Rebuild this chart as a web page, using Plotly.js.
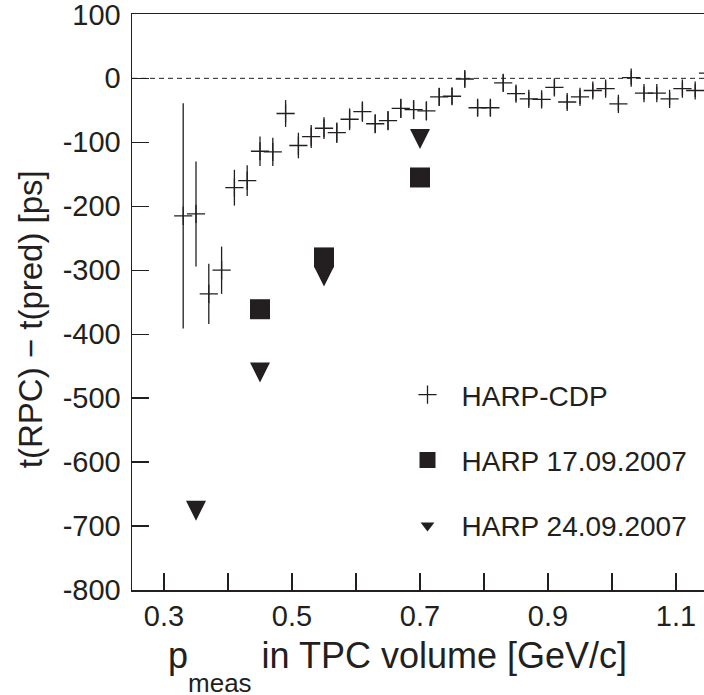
<!DOCTYPE html>
<html>
<head>
<meta charset="utf-8">
<script src="https://cdn.plot.ly/plotly-3.0.1.min.js"></script>
<style>
html, body { margin: 0; padding: 0; overflow: hidden; background: #fff; }
#chart { width: 712px; height: 695px; }
</style>
</head>
<body>
<div id="chart"></div>
<script>
// HARP-CDP: momentum bins, mean time difference, error
const cdpP = [0.33, 0.35, 0.37, 0.39, 0.41, 0.43, 0.45, 0.47, 0.49, 0.51, 0.53, 0.55, 0.57, 0.59, 0.61, 0.63, 0.65, 0.67, 0.69, 0.71, 0.73, 0.75, 0.77, 0.79, 0.81, 0.83, 0.85, 0.87, 0.89, 0.91, 0.93, 0.95, 0.97, 0.99, 1.01, 1.03, 1.05, 1.07, 1.09, 1.11, 1.13, 1.15];
const cdpDt = [-215, -212, -337, -300, -171, -160, -114, -115, -55, -105, -91, -78, -85, -64, -52, -71, -66, -47, -49, -51, -29, -28, -1, -46, -46, -7, -24, -32, -33, -14, -37, -29, -19, -16, -40, 1, -23, -23, -32, -16, -19, 8];
const cdpErr = [176, 82, 47, 37, 28, 24, 23, 22, 21, 20, 18, 17, 16, 17, 16, 15, 15, 15, 15, 15, 14, 13, 12, 13, 13, 13, 12, 11, 11, 12, 11, 11, 11, 11, 11, 11, 10, 10, 10, 11, 10, 10];

// HARP 17.09.2007
const h17P = [0.45, 0.55, 0.70];
const h17Dt = [-361, -280, -155];

// HARP 24.09.2007
const h24P = [0.35, 0.45, 0.55, 0.70];
const h24Dt = [-676, -460, -310, -95];

const xTickVals = [0.3, 0.4, 0.5, 0.6, 0.7, 0.8, 0.9, 1.0, 1.1];
const xTickText = ['0.3', '', '0.5', '', '0.7', '', '0.9', '', '1.1'];
const yTickVals = [-800, -700, -600, -500, -400, -300, -200, -100, 0, 100];
const yTickText = ['-800', '-700', '-600', '-500', '-400', '-300', '-200', '-100', '0', '100'];

const ink = '#231f20';
const fontFam = '"Liberation Sans", Arial, Helvetica, sans-serif';

const traces = [
  {
    type: 'scatter', mode: 'markers', name: 'HARP-CDP', legendgroup: 'a',
    x: cdpP, y: cdpDt,
    marker: { symbol: 'cross-thin', size: 13, color: ink, line: { color: ink, width: 1.3 } },
    error_y: { type: 'data', array: cdpErr, visible: true, color: ink, thickness: 1.3, width: 0 }
  },
  {
    type: 'scatter', mode: 'markers', name: 'HARP 17.09.2007', legendgroup: 'b',
    x: h17P, y: h17Dt,
    marker: { symbol: 'square', size: 20, color: ink, line: { width: 0 } }
  },
  {
    type: 'scatter', mode: 'markers', name: 'HARP 24.09.2007', legendgroup: 'c', showlegend: false,
    x: h24P, y: h24Dt,
    marker: { symbol: 'arrow-down', size: 20, standoff: 10, color: ink, line: { width: 0 } }
  },
  {
    // legend entry only (no data points)
    type: 'scatter', mode: 'markers', name: 'HARP 24.09.2007', legendgroup: 'c',
    x: [null], y: [null],
    marker: { symbol: 'triangle-down', size: 12, color: ink, line: { width: 0 } }
  }
];

const layout = {
  width: 712, height: 695,
  margin: { l: 132, r: 4, t: 14, b: 105 },
  paper_bgcolor: '#fff', plot_bgcolor: '#fff',
  font: { family: fontFam, color: ink, size: 28 },
  showlegend: true,
  legend: {
    x: 0.454, y: 0.382, xanchor: 'left', yanchor: 'top',
    bgcolor: 'rgba(0,0,0,0)', borderwidth: 0,
    font: { family: fontFam, size: 28, color: ink },
    tracegroupgap: 26, itemsizing: 'trace', itemwidth: 58
  },
  xaxis: {
    range: [0.25, 1.15], tickmode: 'array', tickvals: xTickVals, ticktext: xTickText,
    ticks: 'inside', ticklen: 17, tickwidth: 1.3, tickcolor: ink,
    showline: true, linecolor: ink, linewidth: 1.5, mirror: true,
    showgrid: false, zeroline: false,
    tickfont: { family: fontFam, size: 29, color: ink },
    ticklabelstandoff: 0, ticklabeloverflow: 'allow'
  },
  yaxis: {
    range: [-800, 100.6], tickmode: 'array', tickvals: yTickVals, ticktext: yTickText,
    ticks: 'inside', ticklen: 17, tickwidth: 1.3, tickcolor: ink,
    showline: true, linecolor: ink, linewidth: 1.5, mirror: true,
    showgrid: false, zeroline: false,
    tickfont: { family: fontFam, size: 29, color: ink },
    ticklabelstandoff: 4, ticklabeloverflow: 'allow'
  },
  shapes: [
    { type: 'line', xref: 'paper', yref: 'y', x0: 0, x1: 1, y0: 0, y1: 0,
      line: { color: ink, width: 1, dash: '5px,4px' } }
  ],
  annotations: [
    { xref: 'paper', yref: 'paper', x: 0.059, y: -0.075, xanchor: 'left', yanchor: 'top',
      showarrow: false, font: { family: fontFam, size: 36, color: ink },
      text: 'p<span style="font-size:26px;baseline-shift:-24px">meas</span> in TPC volume [GeV/c]' },
    { xref: 'paper', yref: 'paper', x: -0.175, y: 0.4705, xanchor: 'center', yanchor: 'middle',
      textangle: -90, showarrow: false, font: { family: fontFam, size: 33, color: ink },
      text: 't(RPC) − t(pred) [ps]' }
  ]
};

Plotly.newPlot('chart', traces, layout, { staticPlot: true, displayModeBar: false });
</script>
</body>
</html>
